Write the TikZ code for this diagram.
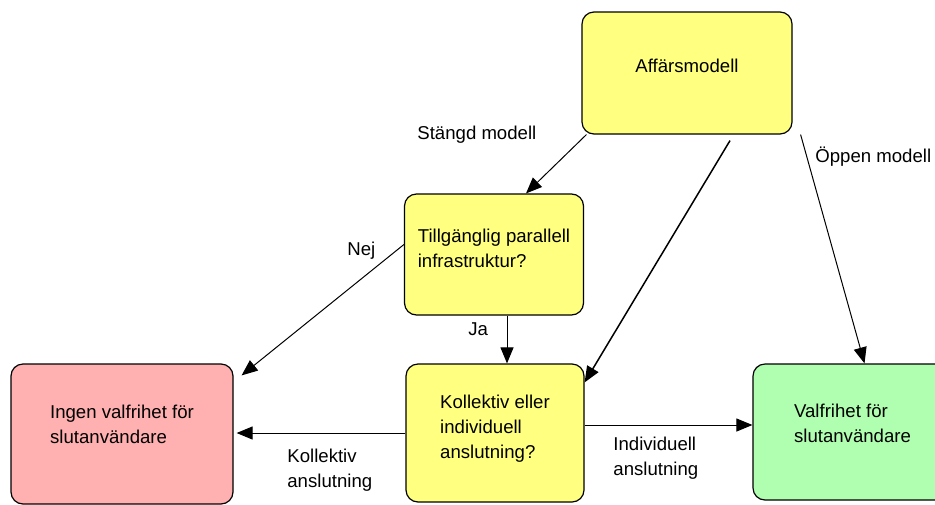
\documentclass[tikz,border=0pt]{standalone}
\usepackage{fontspec}
\setmainfont{Liberation Sans}
\usepackage{xcolor}
\usetikzlibrary{positioning,arrows.meta,calc}
\definecolor{boxyellow}{HTML}{FFFF80}
\definecolor{boxred}{HTML}{FFB0B0}
\definecolor{boxgreen}{HTML}{B0FFB0}

\begin{document}
\begin{tikzpicture}[
  x=0.5pt, y=-0.5pt,
  font=\fontsize{9.3}{12.4}\selectfont,
  every node/.style={align=left},
  box/.style={draw, line width=0.6pt, rounded corners=6pt, inner sep=2pt, fill=boxyellow},
  nobox/.style={box, fill=boxred},
  yesbox/.style={box, fill=boxgreen},
  arrow/.style={-{Triangle[length=8pt,width=6.5pt]}, line width=0.5pt},
  lbl/.style={anchor=west, inner sep=0pt},
]
\useasboundingbox (0,0) rectangle (935,504);

% ===== boxes =====
\node[box, minimum width=105pt, minimum height=61pt, text depth=7pt] (afm) at (687,73) {Affärsmodell};
\node[box, minimum width=89.5pt, minimum height=60.5pt, text depth=6.5pt] (tpi) at (494,254.5) {Tillgänglig parallell\\infrastruktur?};
\node[nobox, minimum width=111pt, minimum height=70pt, text depth=10pt] (ingen) at (122,434) {Ingen valfrihet för\\slutanvändare};
\node[box, minimum width=89pt, minimum height=69pt, text depth=6pt] (koll) at (495,433) {Kollektiv eller\\individuell\\anslutning?};
\node[yesbox, minimum width=99.5pt, minimum height=68pt, text depth=9pt] (valf) at (852.5,432) {Valfrihet för\\slutanvändare};

% ===== labels =====
\node[lbl] (stangd) at (417,135) {Stängd modell};
\node[lbl] (oppen) at (815,157) {Öppen modell};
\node[lbl] (nej) at (347,251) {Nej};
\node[lbl] (ja) at (468,329) {Ja};
\node[lbl] (kollanl) at (287,470) {Kollektiv\\anslutning};
\node[lbl] (indanl) at (613,458) {Individuell\\anslutning};

% ===== arrows =====
\coordinate (jaend) at ($(tpi.south)+(13,0)$);
\coordinate (indstart) at ($(koll.east)+(0,-8)$);

\draw[arrow] ($(afm.south west)+(5,0)$) -- ($(tpi.north)+(32,0)$);
\draw[arrow, line width=0.75pt] ($(afm.south)+(43,6)$) -- ($(koll.north east)+(0,19)$);
\draw[arrow] ($(afm.south east)+(8,0)$) -- ($(valf.north)+(12,0)$);
\draw[arrow] ($(tpi.west)+(0,-10)$) -- ($(ingen.north east)+(8,12)$);
\draw[arrow] (jaend) -- (jaend |- koll.north);
\draw[arrow] (koll.west) -- ($(koll.west -| ingen.east)+(3,0)$);
\draw[arrow] (indstart) -- (indstart -| valf.west);
\end{tikzpicture}
\end{document}
